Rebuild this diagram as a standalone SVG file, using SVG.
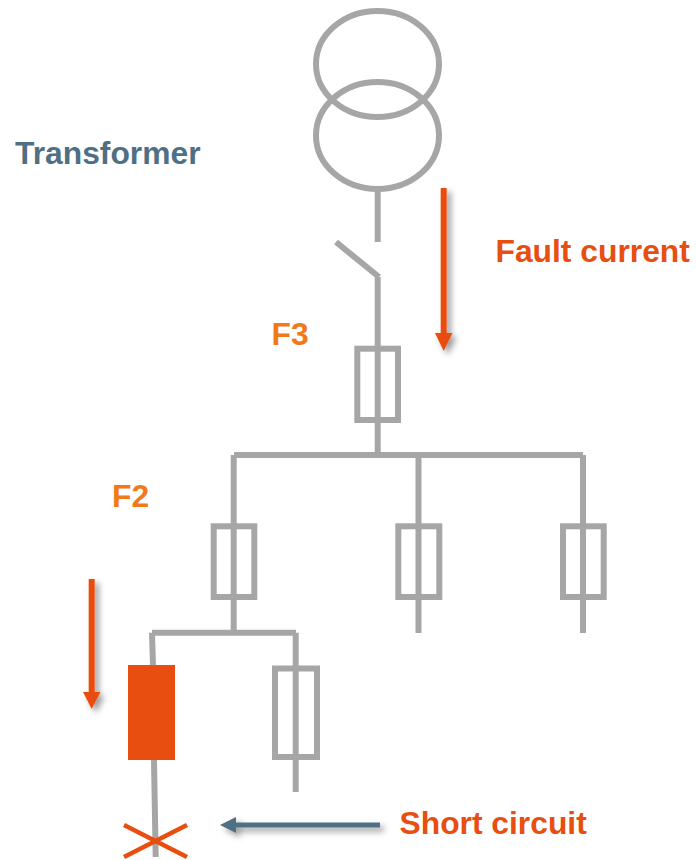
<svg xmlns="http://www.w3.org/2000/svg" width="696" height="860" viewBox="0 0 696 860">
<defs>
<style>
.w{fill:none;stroke:#a6a6a6;stroke-width:6}
.t{font-family:"Liberation Sans",Arial,sans-serif;font-weight:bold;font-size:31.8px}
</style>
<filter id="s" filterUnits="userSpaceOnUse" x="0" y="0" width="696" height="860"><feDropShadow dx="4" dy="4" stdDeviation="3" flood-color="#000" flood-opacity="0.4"/></filter>
</defs>
<rect width="696" height="860" fill="#fff"/>
<g id="transformer" class="w"><ellipse cx="377.500" cy="64" rx="61.500" ry="53"/><ellipse cx="377.500" cy="135.500" rx="61.500" ry="53.500"/></g>
<g id="connectors" class="w">
<path d="M377.700 189V242M336 242L379 277M377.700 277V455M234 455H583M233.700 455V632.700M418.500 455V633M583 455V633M152 632.700H296M152 632.700L153 666M295.700 632.700V792M154 760L155.700 857"/>
</g>
<g id="f3" class="w"><rect x="357.300" y="348.700" width="40.700" height="71.300"/></g>
<g id="f2" class="w"><rect x="213.700" y="526.300" width="40.600" height="70.700"/></g>
<g id="fuse-b" class="w"><rect x="398.300" y="526.300" width="41" height="70.700"/></g>
<g id="fuse-c" class="w"><rect x="563" y="526.300" width="40.700" height="70.700"/></g>
<g id="fuse-e" class="w"><rect x="275" y="668.500" width="42" height="88.500"/></g>
<g id="f1"><rect x="128" y="665" width="47" height="95" fill="#e84e0f"/></g>
<g id="fault"><path d="M124 825L187 857M187 825L124 857" fill="none" stroke="#e84e0f" stroke-width="4.500"/></g>
<g id="arrows">
<g filter="url(#s)"><path d="M443.700 188V334" stroke="#e84e0f" stroke-width="6"/><path d="M435 333H452.500L443.700 351Z" fill="#e84e0f"/></g>
<g filter="url(#s)"><path d="M91.700 579V693" stroke="#e84e0f" stroke-width="6"/><path d="M83 692H100.500L91.700 709Z" fill="#e84e0f"/></g>
<g filter="url(#s)"><path d="M380 825H235" stroke="#4f7084" stroke-width="5"/><path d="M220 825L236 817V833Z" fill="#4f7084"/></g>
</g>
<g id="labels" class="t">
<text x="15" y="164" fill="#4f7084">Transformer</text>
<text x="495.500" y="262" fill="#e84e0f">Fault current</text>
<text x="271.500" y="345" fill="#f07a1a">F3</text>
<text x="112" y="507" fill="#f07a1a">F2</text>
<text x="399.500" y="834" fill="#e84e0f">Short circuit</text>
</g>
</svg>
